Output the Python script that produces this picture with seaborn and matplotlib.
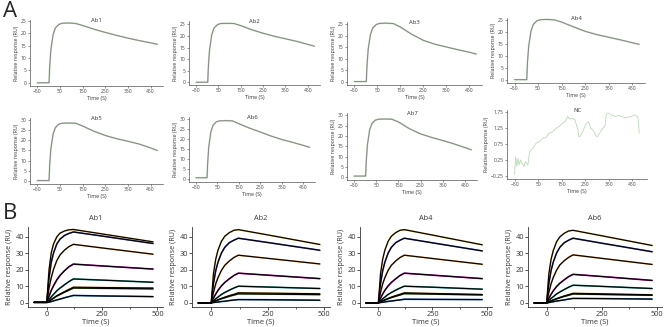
import numpy as np
import pandas as pd
import seaborn as sns
import matplotlib.pyplot as plt
from matplotlib.ticker import MultipleLocator

sns.set_style("ticks")
plt.rcParams["font.family"] = ["Open Sans", "DejaVu Sans"]

# ---- panel A: single-cycle sensorgrams ----
time_a = [-50, 0, 2, 5, 10, 20, 30, 45, 60, 90, 120, 150, 200, 250, 300, 350, 400, 450, 480]
ab1_a = [0, 0, 0, 6.7, 13.2, 19.4, 22.1, 23.5, 24.0, 24.1, 23.9, 23.1, 21.6, 20.3, 19.1, 18.0, 17.0, 16.1, 15.5]
ab2_a = [0, 0, 0, 7.1, 14.0, 20.6, 23.4, 24.9, 25.4, 25.5, 25.4, 24.5, 22.7, 21.2, 19.9, 18.8, 17.7, 16.4, 15.6]
ab3_a = [0, 0, 0, 7.1, 14.0, 20.6, 23.4, 24.9, 25.4, 25.5, 25.3, 23.8, 20.6, 18.0, 16.3, 15.1, 13.9, 12.8, 12.0]
ab4_a = [0, 0, 0, 7.1, 13.9, 20.5, 23.3, 24.8, 25.3, 25.4, 25.2, 24.3, 22.3, 20.4, 19.0, 17.9, 16.8, 15.6, 14.9]
ab5_a = [0, 0, 0, 8.0, 15.8, 23.2, 26.4, 28.1, 28.6, 28.7, 28.6, 27.2, 24.6, 22.5, 20.9, 19.6, 18.2, 16.3, 15.0]
ab6_a = [0.8, 0.8, 0.8, 8.1, 16.0, 23.5, 26.7, 28.4, 28.9, 29.0, 28.9, 27.5, 25.3, 23.4, 21.4, 19.7, 18.3, 16.8, 15.8]
ab7_a = [0.6, 0.6, 0.6, 7.9, 15.5, 22.8, 25.9, 27.6, 28.1, 28.2, 28.1, 26.8, 23.5, 21.0, 19.3, 17.8, 16.2, 14.4, 13.3]

nc_time = [-52, -47, -42, -37, -32, -27, -20, -12, -5, 5, 12, 25, 40, 55, 68, 82, 96, 110, 125, 140, 153,
           165, 174, 185, 195, 205, 212, 218, 223, 230, 235, 243, 251, 257, 263, 268, 273, 282, 291, 296,
           301, 308, 315, 322, 329, 334, 339, 345, 350, 360, 370, 378, 390, 406, 420, 434, 448, 462, 474, 480]
nc_resp = [-0.2, 0.35, 0.05, 0.3, 0.1, 0.25, 0.15, 0.05, 0.2, 0.1, 0.5, 0.6, 0.77, 0.82, 0.92, 0.95, 1.08, 1.12,
           1.23, 1.3, 1.39, 1.45, 1.6, 1.52, 1.54, 1.5, 1.34, 1.2, 0.97, 1.0, 1.08, 1.2, 1.34, 1.4, 1.44, 1.35,
           1.23, 1.18, 1.08, 1.0, 0.97, 1.05, 1.13, 1.2, 1.28, 1.3, 1.65, 1.7, 1.7, 1.65, 1.62, 1.6, 1.63,
           1.6, 1.55, 1.58, 1.6, 1.65, 1.6, 1.08]

# ---- panel B: multi-concentration kinetics ----
time_b = [-57, 0, 10, 20, 30, 45, 60, 80, 100, 120, 250, 480]
ab1_b = [
    [0.3, 0.3, 20.0, 30.3, 35.6, 40.0, 42.3, 43.6, 44.3, 44.5, 41.8, 37.0],
    [0.3, 0.3, 15.1, 24.5, 30.1, 35.7, 38.7, 40.9, 42.1, 43.0, 40.5, 36.0],
    [0.3, 0.3, 8.9, 15.3, 20.2, 25.6, 29.1, 32.0, 34.1, 35.5, 33.3, 29.5],
    [0.3, 0.3, 4.0, 7.5, 10.3, 13.9, 16.7, 19.5, 21.9, 23.5, 22.4, 20.5],
    [0.3, 0.3, 1.9, 3.6, 5.1, 7.3, 9.0, 11.0, 12.9, 14.5, 13.8, 12.5],
    [0.3, 0.3, 1.0, 2.0, 2.9, 4.3, 5.4, 6.8, 8.2, 9.5, 9.3, 9.0],
    [0.3, 0.3, 1.0, 1.9, 2.8, 4.1, 5.1, 6.5, 7.7, 9.0, 8.8, 8.5],
    [0.3, 0.3, 0.4, 0.8, 1.2, 1.8, 2.3, 3.1, 3.8, 4.5, 4.2, 3.8],
]
ab2_b = [
    [0.0, 0.0, 17.8, 26.6, 32.0, 37.3, 40.4, 42.6, 44.0, 44.4, 41.2, 35.4],
    [0.0, 0.0, 11.8, 19.6, 24.7, 30.2, 33.7, 36.5, 38.0, 39.2, 36.6, 31.9],
    [0.0, 0.0, 6.4, 11.6, 15.3, 19.7, 22.8, 25.4, 27.5, 28.9, 27.0, 23.6],
    [0.0, 0.0, 2.9, 5.4, 7.6, 10.3, 12.4, 14.6, 16.6, 18.0, 16.8, 14.7],
    [0.0, 0.0, 1.3, 2.5, 3.5, 5.1, 6.3, 7.7, 9.0, 10.1, 9.6, 8.7],
    [0.0, 0.0, 0.7, 1.3, 1.9, 2.7, 3.5, 4.4, 5.2, 6.1, 5.9, 5.5],
    [0.0, 0.0, 0.6, 1.2, 1.7, 2.5, 3.1, 4.0, 4.7, 5.5, 5.3, 5.0],
    [0.0, 0.0, 0.2, 0.4, 0.5, 0.8, 1.0, 1.4, 1.7, 2.0, 1.9, 1.6],
]
ab4_b = [
    [0.0, 0.0, 17.8, 26.6, 32.0, 37.3, 40.4, 42.6, 44.0, 44.4, 41.1, 35.2],
    [0.0, 0.0, 11.8, 19.6, 24.7, 30.2, 33.7, 36.5, 38.0, 39.2, 36.4, 31.5],
    [0.0, 0.0, 6.4, 11.6, 15.3, 19.7, 22.8, 25.4, 27.5, 28.9, 26.9, 23.4],
    [0.0, 0.0, 2.9, 5.4, 7.6, 10.3, 12.4, 14.6, 16.6, 18.0, 16.8, 14.7],
    [0.0, 0.0, 1.3, 2.5, 3.5, 5.1, 6.3, 7.7, 9.0, 10.1, 9.5, 8.3],
    [0.0, 0.0, 0.7, 1.3, 1.9, 2.7, 3.5, 4.4, 5.2, 6.1, 5.7, 5.1],
    [0.0, 0.0, 0.6, 1.2, 1.7, 2.5, 3.2, 4.0, 4.8, 5.6, 5.3, 4.8],
    [0.0, 0.0, 0.2, 0.4, 0.6, 0.9, 1.1, 1.5, 1.8, 2.2, 2.1, 2.0],
]
ab6_b = [
    [0.0, 0.0, 17.6, 26.4, 31.7, 37.0, 40.0, 42.2, 43.6, 44.0, 40.7, 34.8],
    [0.0, 0.0, 11.8, 19.6, 24.7, 30.2, 33.7, 36.5, 38.0, 39.2, 36.2, 31.0],
    [0.0, 0.0, 6.4, 11.6, 15.4, 19.8, 23.0, 25.6, 27.6, 29.1, 27.0, 23.3],
    [0.0, 0.0, 2.8, 5.2, 7.3, 9.9, 11.9, 14.0, 15.9, 17.3, 16.0, 13.6],
    [0.0, 0.0, 1.4, 2.7, 3.7, 5.4, 6.6, 8.1, 9.5, 10.7, 10.0, 8.7],
    [0.0, 0.0, 0.6, 1.2, 1.8, 2.6, 3.3, 4.2, 5.0, 5.8, 5.5, 4.9],
    [0.0, 0.0, 0.6, 1.1, 1.7, 2.4, 3.1, 3.9, 4.6, 5.4, 5.1, 4.6],
    [0.0, 0.0, 0.2, 0.5, 0.7, 1.1, 1.4, 1.8, 2.3, 2.7, 2.6, 2.3],
]
data_colors = ["#e8b84a", "#5a5fc4", "#f0a050", "#b5179e", "#2a9d8f", "#f0c040", "#6a994e", "#2a6fb8"]

W, H = 669, 327
fig = plt.figure(figsize=(W / 100, H / 100), dpi=100)


def px_axes(left, top, right, bottom):
    return fig.add_axes([left / W, 1 - bottom / H, (right - left) / W, (bottom - top) / H])


def style_a(ax, title, ylim, yticks, xlim=(-82, 505)):
    ax.set_xlim(*xlim)
    ax.set_ylim(*ylim)
    ax.set_xticks([-50, 50, 150, 250, 350, 450])
    ax.set_yticks(yticks)
    sns.despine(ax=ax)
    for s in ax.spines.values():
        s.set_linewidth(0.5)
        s.set_color("#555555")
    ax.tick_params(labelsize=3.6, length=1.5, width=0.4, pad=1, colors="#444444")
    ax.set_xlabel("Time (S)", fontsize=3.8, labelpad=1, color="#333333")
    ax.set_ylabel("Relative response (RU)", fontsize=3.8, labelpad=1, color="#333333")
    ax.text(0.5, 0.99, title, transform=ax.transAxes, ha="center", va="center",
            fontsize=4.2, color="#333333")


panels_a = [
    (ab1_a, "Ab1", (30, 20, 163, 86), (-1.3, 25.3), [0, 5, 10, 15, 20, 25]),
    (ab2_a, "Ab2", (189, 21, 320, 85), (-1.2, 26.5), [0, 5, 10, 15, 20, 25]),
    (ab3_a, "Ab3", (347, 22, 482, 85), (-1.5, 26.0), [0, 5, 10, 15, 20, 25]),
    (ab4_a, "Ab4", (507, 18, 645, 83), (-1.4, 26.0), [0, 5, 10, 15, 20, 25]),
    (ab5_a, "Ab5", (30, 118, 163, 184), (-1.7, 31.2), [0, 5, 10, 15, 20, 25, 30]),
    (ab6_a, "Ab6", (189, 117, 315, 182), (-1.3, 30.8), [0, 5, 10, 15, 20, 25, 30]),
    (ab7_a, "Ab7", (347, 113, 477, 180), (-1.3, 31.1), [0, 5, 10, 15, 20, 25, 30]),
]
for vals, title, box, ylim, yticks in panels_a:
    ax = px_axes(*box)
    sns.lineplot(x=time_a, y=vals, ax=ax, color="#c3e0bd", lw=1.2, estimator=None)
    sns.lineplot(x=time_a, y=vals, ax=ax, color="#858585", lw=0.7, estimator=None)
    style_a(ax, title, ylim, yticks)

ax = px_axes(507, 110, 647, 179)
sns.lineplot(x=nc_time, y=nc_resp, ax=ax, color="#b9dcb4", lw=0.6, estimator=None)
style_a(ax, "NC", (-0.34, 1.8), [-0.25, 0.25, 0.75, 1.25, 1.75], xlim=(-84, 513))

# ---- panel B ----
panels_b = [
    (ab1_b, "Ab1", (28, 227, 163, 307)),
    (ab2_b, "Ab2", (192, 227, 330, 307)),
    (ab4_b, "Ab4", (360, 227, 492, 307)),
    (ab6_b, "Ab6", (528, 227, 662, 307)),
]
for curves, title, box in panels_b:
    ax = px_axes(*box)
    for vals, c in zip(curves, data_colors):
        sns.lineplot(x=time_b, y=vals, ax=ax, color=c, lw=1.2, estimator=None)
    for vals in curves:
        sns.lineplot(x=time_b, y=vals, ax=ax, color="black", lw=0.85, estimator=None)
    ax.set_xlim(-85, 525)
    ax.set_ylim(-2.5, 46)
    ax.set_xticks([0, 250, 500])
    ax.xaxis.set_minor_locator(MultipleLocator(125))
    ax.set_yticks([0, 10, 20, 30, 40])
    sns.despine(ax=ax)
    for s in ax.spines.values():
        s.set_linewidth(0.6)
        s.set_color("#333333")
    ax.tick_params(labelsize=5.3, length=2, width=0.6, pad=1, colors="#333333")
    ax.tick_params(which="minor", length=1.3, width=0.5)
    ax.set_xlabel("Time (S)", fontsize=5.4, labelpad=0.5, color="#333333")
    ax.set_ylabel("Relative response (RU)", fontsize=5.2, labelpad=1.5, color="#333333")
    ax.set_title(title, fontsize=5.3, pad=5, color="#333333")

fig.text(3 / W, 1 - 1 / H, "A", fontsize=16, va="top", ha="left")
fig.text(3 / W, 1 - 203 / H, "B", fontsize=16, va="top", ha="left")

fig.savefig("out.png", dpi=100)
